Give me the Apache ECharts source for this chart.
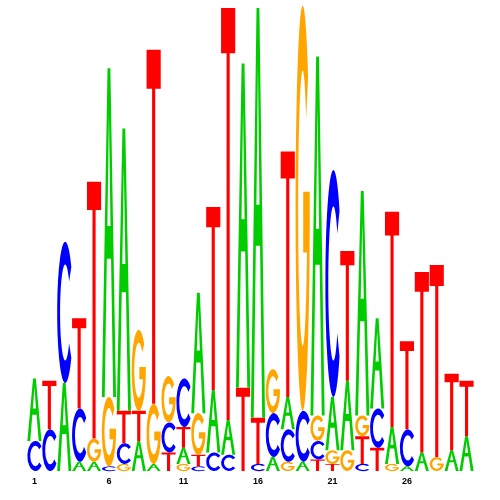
<!DOCTYPE html>
<html>
<head>
<meta charset="utf-8">
<script src="https://cdn.jsdelivr.net/npm/echarts@6/dist/echarts.min.js"></script>
<style>
  html, body { margin: 0; padding: 0; background: #fff; }
  #chart { width: 500px; height: 500px; }
</style>
</head>
<body>
<div id="chart"></div>
<script>
// positions 1..30, heights in bits for each base
const positions = Array.from({ length: 30 }, (_, i) => String(i + 1))
const tickLabels = ['1', '6', '11', '16', '21', '26']

const heightA = [0.27, 0, 0.38, 0.04, 0.04, 1.42, 1.22, 0.13, 0.03, 0, 0.07, 0.52, 0.27, 0.15, 1.40,
                 1.77, 0.06, 0.14, 0.04, 1.55, 0.23, 0.30, 0.97, 0.39, 0.16, 0.02, 0.08, 0, 0.09, 0.15]
const heightC = [0.13, 0.18, 0.61, 0.23, 0, 0.02, 0.09, 0, 0, 0.13, 0.21, 0.02, 0.08, 0.07, 0,
                 0.03, 0.19, 0.14, 0.22, 0.08, 0.98, 0, 0.03, 0.17, 0, 0.16, 0, 0, 0, 0]
const heightG = [0, 0, 0, 0, 0.10, 0.30, 0.03, 0.35, 0.26, 0.20, 0.03, 0.18, 0, 0, 0,
                 0, 0.19, 0.04, 1.75, 0.11, 0.06, 0.09, 0.09, 0, 0.03, 0, 0, 0.06, 0, 0]
const heightT = [0, 0.21, 0, 0.39, 1.11, 0, 0.14, 0.13, 1.53, 0.08, 0.09, 0.05, 0.79, 1.78, 0.36,
                 0.20, 0, 1.06, 0, 0.05, 0.03, 0.56, 0.12, 0.10, 0.93, 0.38, 0.78, 0.83, 0.33, 0.24]

// stacking order, bottom to top
const stackOrder = ['CA', 'CT', 'AC', 'ACT', 'AGT', 'CGA', 'GCTA', 'ATG', 'AGT', 'TCG',
                    'GATC', 'CTGA', 'CAT', 'CAT', 'TA', 'CTA', 'ACG', 'GCAT', 'ACG', 'TCGA',
                    'TGAC', 'GAT', 'CTGA', 'TCA', 'GAT', 'ACT', 'AT', 'GT', 'AT', 'AT']

const heights = { A: heightA, C: heightC, G: heightG, T: heightT }
const colors = { A: '#00cc00', C: '#0000ff', G: '#ffa500', T: '#ff0000' }

// glyph outlines in a 100x100 box, stretched to fit each letter's cell
const glyphs = {
    A: 'M0,100 L40,0 L60,0 L100,100 L80,100 L65,58 L35,58 L20,100 Z M39,48 L61,48 L50,14 Z',
    C: 'M88.3,17.9 A50,50 0 1 0 88.3,82.1 L74.5,71.9 A32,34 0 1 1 74.5,28.1 Z',
    G: 'M88.3,17.9 A50,50 0 1 0 99.8,55 L99.8,46 L54,46 L54,61 L80.4,61 A32,34 0 1 1 74.5,28.1 Z',
    T: 'M0,0 L100,0 L100,11 L61,11 L61,100 L39,100 L39,11 L0,11 Z'
}

let data = []
stackOrder.forEach((letters, i) => {
    let base = 0
    letters.split('').forEach(l => {
        const h = heights[l][i]
        data.push([i, base, base + h, l])
        base += h
    })
})

const myChart = echarts.init(document.getElementById('chart'))

const option = {
    animation: false,
    grid: { left: 27, right: 26, top: 8, bottom: 29 },
    xAxis: {
        type: 'category',
        data: positions,
        axisLine: { show: false },
        axisTick: { show: false },
        splitLine: { show: false },
        axisLabel: {
            interval: 0,
            margin: 6,
            color: '#000',
            fontSize: 9,
            fontWeight: 'bold',
            fontFamily: 'Liberation Sans, Arial, sans-serif',
            formatter: v => tickLabels.includes(v) ? v : ''
        }
    },
    yAxis: {
        type: 'value',
        min: 0,
        max: 2,
        show: false
    },
    series: [
        {
            type: 'custom',
            data: data,
            encode: { x: 0, y: [1, 2] },
            renderItem: (params, api) => {
                const i = api.value(0)
                const bottom = api.coord([i, api.value(1)])
                const top = api.coord([i, api.value(2)])
                const letter = data[params.dataIndex][3]
                const w = api.size([1, 0])[0] * 0.95
                const h = bottom[1] - top[1]
                if (h <= 0.5) return null
                return {
                    type: 'path',
                    shape: {
                        pathData: glyphs[letter],
                        layout: 'cover',
                        x: bottom[0] - w / 2,
                        y: top[1],
                        width: w,
                        height: h
                    },
                    style: { fill: colors[letter] }
                }
            }
        }
    ]
}

myChart.setOption(option)
</script>
</body>
</html>
